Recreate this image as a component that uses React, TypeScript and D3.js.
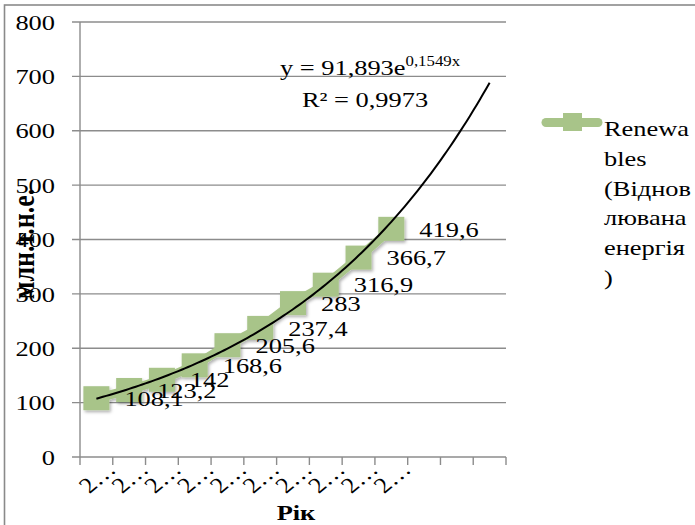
import React from "react";
import * as d3 from "d3";

const categories = ["2…", "2…", "2…", "2…", "2…", "2…", "2…", "2…", "2…", "2…", "", "", ""];
const values = [108.1, 123.2, 142, 168.6, 205.6, 237.4, 283, 316.9, 366.7, 419.6];
const valueLabels = ["108,1", "123,2", "142", "168,6", "205,6", "237,4", "283", "316,9", "366,7", "419,6"];
const yTicks = [0, 100, 200, 300, 400, 500, 600, 700, 800];
const trendA = 91.893;
const trendB = 0.1549;
const trendEnd = 13;
const eqMain = "y = 91,893e";
const eqSup = "0,1549x";
const r2Text = "R² = 0,9973";
const legendLines = ["Renewa", "bles", "(Віднов", "лювана", "енергія", ")"];
const yTitle = "млн.т.н.е.";
const xTitle = "Рік";

const W = 695, H = 525;
const L = 80, R = 506, T = 22, B = 457;
const SX = 1.2;
const FONT = "Times New Roman, Liberation Serif, serif";
const GREEN = "#a8c489";

function St({ x, y, rot = 0, children, ...rest }: any) {
  return (
    <g transform={`translate(${x},${y}) scale(${SX},1) rotate(${rot})`}>
      <text x={0} y={0} style={{ fontFamily: FONT }} {...rest}>{children}</text>
    </g>
  );
}

export default function App() {
  const x = d3.scaleBand<number>().domain(categories.map((_, i) => i)).range([L, R]).paddingInner(0).paddingOuter(0);
  const bw = x.bandwidth();
  const cx = (i: number) => (x(i) as number) + bw / 2;
  const y = d3.scaleLinear().domain([0, 800]).range([B, T]);
  const xt = d3.scaleLinear().domain([0.5, categories.length + 0.5]).range([L, R]);

  const seriesLine = d3.line<number>().x((_, i) => cx(i)).y((d) => y(d))(values) || "";
  const tSamples = d3.range(1, trendEnd + 0.0001, 0.1);
  const trend = d3.line<number>().x((t) => xt(t)).y((t) => y(trendA * Math.exp(trendB * t)))(tSamples) || "";

  const tickXs = d3.range(categories.length + 1).map((i) => L + i * bw);

  return (
    <svg width={W} height={H} style={{ position: "absolute", left: 0, top: 0, background: "#fff", fontFamily: FONT }}>
      <defs>
        <filter id="sh" x="-30%" y="-30%" width="160%" height="160%">
          <feDropShadow dx="1.5" dy="2" stdDeviation="1.5" floodColor="#000" floodOpacity="0.3" />
        </filter>
      </defs>
      <rect x={4.5} y={5} width={W + 10} height={H + 10} fill="#fff" stroke="#8a8a8a" strokeWidth={1.6} />
      {yTicks.map((v) => (
        <line key={v} x1={L - 8} x2={R} y1={y(v)} y2={y(v)} stroke="#8c8c8c" strokeWidth={1.4} />
      ))}
      <line x1={L} x2={L} y1={T} y2={B} stroke="#8c8c8c" strokeWidth={1.4} />
      {tickXs.map((tx, i) => (
        <line key={i} x1={tx} x2={tx} y1={B} y2={B + 8} stroke="#8c8c8c" strokeWidth={1.4} />
      ))}
      {yTicks.map((v) => (
        <St key={v} x={55} y={y(v)} textAnchor="end" dy="0.35em" fontSize={22}>{v}</St>
      ))}
      {categories.map((c, i) => c ? (
        <St key={i} x={cx(i) + 21} y={471} rot={-45} textAnchor="end" fontSize={22}>{c}</St>
      ) : null)}
      <g filter="url(#sh)">
        <path d={seriesLine} fill="none" stroke={GREEN} strokeWidth={9} strokeLinejoin="round" />
        {values.map((v, i) => (
          <rect key={i} x={cx(i) - 13} y={y(v) - 12} width={26} height={24} fill={GREEN} />
        ))}
      </g>
      <path d={trend} fill="none" stroke="#000" strokeWidth={2} />
      {values.map((v, i) => (
        <St key={i} x={cx(i) + 28} y={y(v)} dy="0.35em" fontSize={22}>{valueLabels[i]}</St>
      ))}
      <St x={280} y={75} fontSize={22}>
        {eqMain}
        <tspan fontSize={14} dy={-9}>{eqSup}</tspan>
      </St>
      <St x={302} y={107} fontSize={22}>{r2Text}</St>
      <g transform={`translate(34,244) scale(${SX},1) rotate(-90)`}>
        <text x={0} y={0} textAnchor="middle" style={{ fontFamily: FONT }} fontSize={26} fontWeight="bold">{yTitle}</text>
      </g>
      <St x={296} y={520} textAnchor="middle" fontSize={22} fontWeight="bold">{xTitle}</St>
      <line x1={546} x2={598} y1={122.5} y2={122.5} stroke={GREEN} strokeWidth={9} strokeLinecap="round" />
      <rect x={563} y={113} width={19} height={18} fill={GREEN} />
      {legendLines.map((s, i) => (
        <St key={i} x={604} y={136 + i * 29.8} fontSize={22}>{s}</St>
      ))}
    </svg>
  );
}
